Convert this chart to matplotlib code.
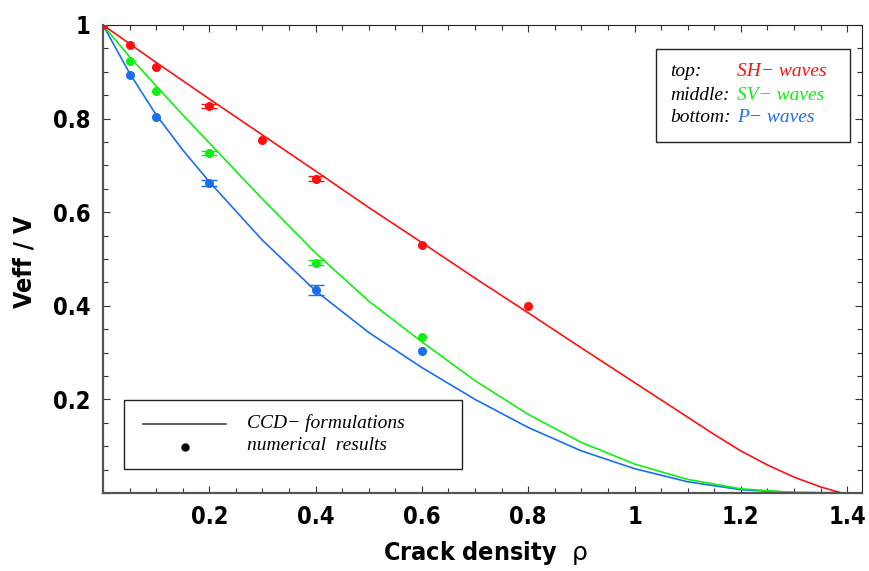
import matplotlib
matplotlib.use("Agg")
import matplotlib.pyplot as plt
from matplotlib import font_manager as fm
from matplotlib.ticker import MultipleLocator, FixedLocator
from matplotlib.patches import Rectangle

# ---- pick a condensed bold sans font ----
def find_font():
    fnames = [f.fname for f in fm.fontManager.ttflist]
    for key in ['LiberationSansNarrow-Bold.', 'DejaVuSansCondensed-Bold.']:
        for fn in fnames:
            if key in fn:
                return fn
    return None

_fn = find_font()
def cond(size):
    if _fn:
        return fm.FontProperties(fname=_fn, size=size)
    return fm.FontProperties(family='Liberation Sans', weight='bold', size=size)

SERIF = 'Liberation Serif'

# ---- CCD formulation curves ----
red_cx = [0, 0.1, 0.2, 0.3, 0.4, 0.5, 0.6, 0.7, 0.8, 0.9, 1.0, 1.05, 1.1, 1.15, 1.2, 1.25, 1.3, 1.35, 1.39, 1.43]
red_cy = [1, 0.920, 0.842, 0.765, 0.688, 0.610, 0.535, 0.459, 0.385, 0.310, 0.236, 0.199, 0.162, 0.125, 0.090, 0.060, 0.034, 0.013, 0.0, 0.0]

green_cx = [0, 0.05, 0.1, 0.15, 0.2, 0.3, 0.4, 0.5, 0.6, 0.7, 0.8, 0.9, 1.0, 1.1, 1.2, 1.3, 1.43]
green_cy = [1, 0.932, 0.870, 0.808, 0.748, 0.628, 0.513, 0.410, 0.323, 0.240, 0.168, 0.108, 0.062, 0.029, 0.009, 0.001, 0.0]

blue_cx = [0, 0.05, 0.1, 0.15, 0.2, 0.3, 0.4, 0.5, 0.6, 0.7, 0.8, 0.9, 1.0, 1.1, 1.2, 1.3, 1.43]
blue_cy = [1, 0.897, 0.808, 0.733, 0.665, 0.540, 0.432, 0.343, 0.268, 0.200, 0.140, 0.090, 0.052, 0.024, 0.007, 0.001, 0.0]

# ---- numerical results ----
red_px = [0, 0.05, 0.1, 0.2, 0.3, 0.4, 0.6, 0.8]
red_py = [1, 0.957, 0.911, 0.827, 0.755, 0.672, 0.530, 0.400]
red_pe = [0, 0, 0, 0.005, 0, 0.005, 0, 0]

green_px = [0.05, 0.1, 0.2, 0.4, 0.6]
green_py = [0.924, 0.858, 0.726, 0.492, 0.334]
green_pe = [0, 0, 0.0045, 0.0055, 0]

blue_px = [0.05, 0.1, 0.2, 0.4, 0.6]
blue_py = [0.893, 0.804, 0.663, 0.434, 0.303]
blue_pe = [0, 0, 0.006, 0.010, 0]

xticks = [0.2, 0.4, 0.6, 0.8, 1.0, 1.2, 1.4]
xticklabels = ['0.2', '0.4', '0.6', '0.8', '1', '1.2', '1.4']
yticks = [0.2, 0.4, 0.6, 0.8, 1.0]
yticklabels = ['0.2', '0.4', '0.6', '0.8', '1']

RED = '#ff1010'
GREEN = '#10f010'
BLUE = '#1a6ef0'

fig = plt.figure(figsize=(8.69, 5.71), dpi=100)
ax = fig.add_axes([103/869, 1-493/571, (862-103)/869, (493-25)/571])

for cx, cy, c in [(blue_cx, blue_cy, BLUE), (green_cx, green_cy, GREEN), (red_cx, red_cy, RED)]:
    ax.plot(cx, cy, color=c, lw=1.2, zorder=2)

for px, py, pe, c in [(blue_px, blue_py, blue_pe, BLUE), (green_px, green_py, green_pe, GREEN), (red_px, red_py, red_pe, RED)]:
    ax.plot(px, py, 'o', color=c, ms=5.5, zorder=3)
    ex = [x for x, e in zip(px, pe) if e > 0]
    ey = [y for y, e in zip(py, pe) if e > 0]
    ee = [e for e in pe if e > 0]
    ax.errorbar(ex, ey, yerr=ee, fmt='none', ecolor=c, capsize=6, elinewidth=1.0,
                capthick=1.0, zorder=3)

ax.set_xlim(0, 1.428)
ax.set_ylim(0, 1.0)

ax.xaxis.set_major_locator(FixedLocator(xticks))
ax.yaxis.set_major_locator(FixedLocator(yticks))
ax.xaxis.set_minor_locator(MultipleLocator(0.05))
ax.yaxis.set_minor_locator(MultipleLocator(0.05))
ax.set_xticklabels(xticklabels, fontproperties=cond(17))
ax.set_yticklabels(yticklabels, fontproperties=cond(17))
ax.tick_params(which='both', direction='in', top=True, right=True, width=0.8, color='#333333')
ax.tick_params(which='major', length=5, pad=9)
ax.tick_params(which='minor', length=3.5)

for s in ['left', 'bottom']:
    ax.spines[s].set_linewidth(1.6)
    ax.spines[s].set_color('#555555')
for s in ['top', 'right']:
    ax.spines[s].set_linewidth(0.8)
    ax.spines[s].set_color('#222222')

fig.text(485/869, 1-553/571, r'Crack density  $\mathrm{\rho}$', fontproperties=cond(18),
         ha='center', va='center')
fig.text(25/869, 1-262/571, 'Veff / V', fontproperties=cond(18),
         rotation=90, ha='center', va='center')

# top-right legend box
tr = ax.transAxes
inv = lambda x, y: ((x-103)/(862-103), (493-y)/(493-25))
x0, y0 = inv(656, 142)
x1, y1 = inv(850, 49)
ax.add_patch(Rectangle((x0, y0), x1-x0, y1-y0, transform=tr, fill=True, facecolor='white',
                       edgecolor='#222222', lw=1.0, zorder=5))
rows = [('top:', 'SH\u2212 waves', RED, 71), ('middle:', 'SV\u2212 waves', GREEN, 96),
        ('bottom:', 'P\u2212 waves', BLUE, 118)]
for lab, txt, c, yy in rows:
    ax.text(*inv(670, yy), lab, transform=tr, fontfamily=SERIF, style='italic', fontsize=14,
            color='black', ha='left', va='center', zorder=6)
    ax.text(*inv(737, yy), txt, transform=tr, fontfamily=SERIF, style='italic', fontsize=14,
            color=c, ha='left', va='center', zorder=6)

# bottom-left legend box
x0, y0 = inv(124, 469)
x1, y1 = inv(462, 400)
ax.add_patch(Rectangle((x0, y0), x1-x0, y1-y0, transform=tr, facecolor='white',
                       edgecolor='#222222', lw=1.0, zorder=5))
ax.plot([inv(143, 424)[0], inv(226, 424)[0]], [inv(143, 424)[1]] * 2, transform=tr,
        color='#444444', lw=1.2, zorder=6)
ax.plot([inv(185, 447)[0]], [inv(185, 447)[1]], 'o', transform=tr, color='black', ms=5, zorder=6)
ax.text(*inv(247, 423), 'CCD\u2212 formulations', transform=tr, fontfamily=SERIF, style='italic',
        fontsize=14, ha='left', va='center', zorder=6)
ax.text(*inv(247, 446), 'numerical  results', transform=tr, fontfamily=SERIF, style='italic',
        fontsize=14, ha='left', va='center', zorder=6)

fig.savefig('out.png', dpi=100)
